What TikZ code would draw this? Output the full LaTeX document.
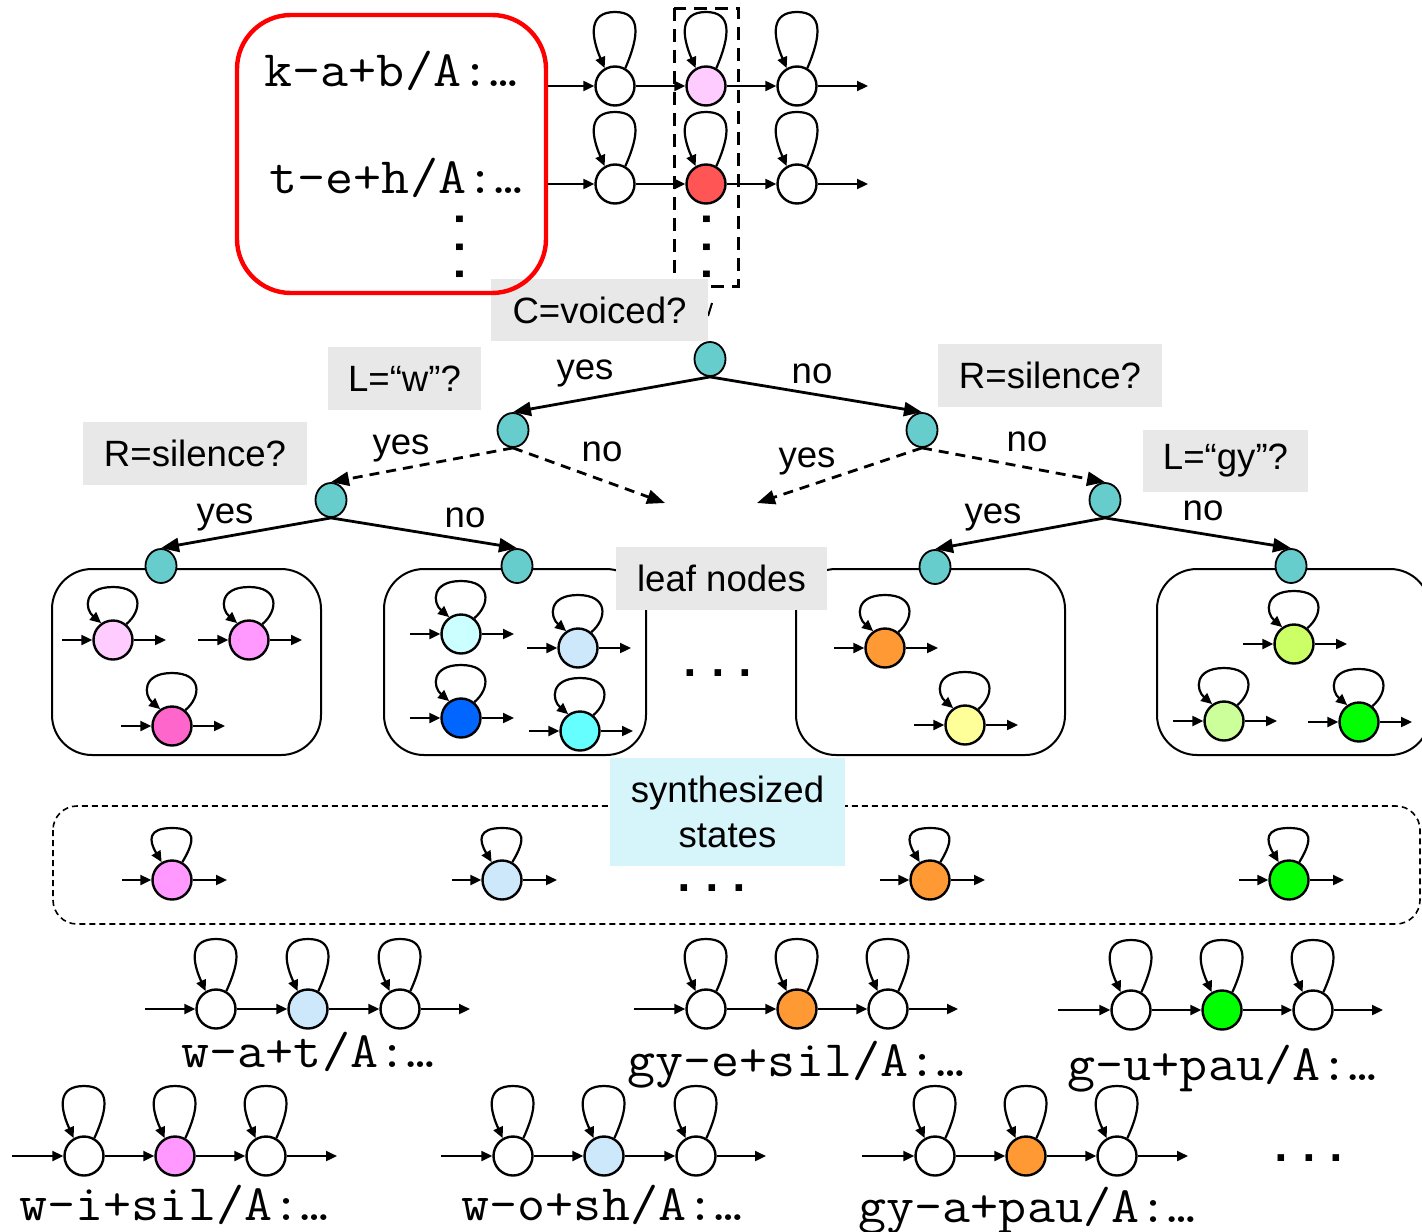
\documentclass[tikz,border=0pt]{standalone}
\usepackage{fontspec}
\setmainfont{Liberation Sans}
\newfontfamily\monof{Liberation Mono}
\usetikzlibrary{arrows.meta,calc,shapes.geometric}

\definecolor{qgray}{HTML}{E8E8E8}
\definecolor{synbg}{HTML}{D5F5FA}
\definecolor{tealc}{HTML}{66CCCC}
\definecolor{pinkL}{HTML}{FFCCFF}
\definecolor{redS}{HTML}{FF5555}
\definecolor{pinkM}{HTML}{FF99FF}
\definecolor{pinkH}{HTML}{FF66CC}
\definecolor{cyanL}{HTML}{CCFFFF}
\definecolor{blueL}{HTML}{CCE8FA}
\definecolor{blueD}{HTML}{0066FF}
\definecolor{cyanM}{HTML}{66FFFF}
\definecolor{orng}{HTML}{FF9933}
\definecolor{yelL}{HTML}{FFFF99}
\definecolor{limeM}{HTML}{CCFF66}
\definecolor{grnL}{HTML}{CCFF99}
\definecolor{grnM}{HTML}{00FF00}

\newcommand\lblfont{\fontsize{18.3pt}{22.5pt}\selectfont}
\newcommand\labmono{\ttfamily\fontsize{25.5pt}{30pt}\selectfont}
\newcommand\dotfont{\monof\bfseries\fontsize{23pt}{26pt}\selectfont}
% model names are set slightly widened
\newcommand\mname[1]{\scalebox{1.067}[1]{#1}}

% self transition drawn above a state: node, start angle, end angle, height, bulge, rise
\newcommand\selfloop[6]{\draw[arr] (#1.#2) .. controls +(0.55*#5,-#6) and +(#5,0) .. ($(#1.center)+(0,-#4)$) .. controls +(-#5,0) and +(-0.55*#5,-#6) .. (#1.#3);}

% three-state left-to-right HMM: prefix, y, x1, x2, x3, centre colour, entry x, exit x, loop height
\newcommand\hmmchain[9]{%
  \node[stt] (#1a) at (#3,#2) {};
  \node[stt,fill=#6] (#1b) at (#4,#2) {};
  \node[stt] (#1c) at (#5,#2) {};
  \coordinate (#1in) at (#7,#2);
  \coordinate (#1out) at (#8,#2);
  \draw[arr] (#1in) -- (#1a);
  \draw[arr] (#1a) -- (#1b);
  \draw[arr] (#1b) -- (#1c);
  \draw[arr] (#1c) -- (#1out);
  \selfloop{#1a}{60}{120}{#9}{26}{0.45*#9}
  \selfloop{#1b}{60}{120}{#9}{26}{0.45*#9}
  \selfloop{#1c}{60}{120}{#9}{26}{0.45*#9}}

% single state inside a leaf box
\newcommand\leafstate[4]{%
  \node[stt,fill=#4] (#1) at (#2,#3) {};
  \coordinate (#1i) at ($(#1)+(-51,0)$);
  \coordinate (#1o) at ($(#1)+(53,0)$);
  \draw[arr] (#1i) -- (#1);
  \draw[arr] (#1) -- (#1o);
  \selfloop{#1}{50}{125}{53}{30}{14}}

% single synthesized state
\newcommand\synstate[4]{%
  \node[stt,fill=#4] (#1) at (#2,#3) {};
  \coordinate (#1i) at ($(#1)+(-50,0)$);
  \coordinate (#1o) at ($(#1)+(55,0)$);
  \draw[arr] (#1i) -- (#1);
  \draw[arr] (#1) -- (#1o);
  \selfloop{#1}{60}{120}{52}{24}{22}}

\begin{document}
\begin{tikzpicture}[x=0.5pt,y=-0.5pt,
  stt/.style={circle,draw,line width=1.2pt,minimum size=19.5pt,inner sep=0pt,fill=white},
  tnode/.style={ellipse,draw,line width=0.9pt,minimum width=15.5pt,minimum height=17pt,inner sep=0pt,fill=tealc},
  arr/.style={-{Triangle[length=5.5pt,width=5pt]},line width=1.1pt},
  tarr/.style={-{Triangle[length=9pt,width=7pt]},line width=1.4pt},
  dsh/.style={dash pattern=on 5pt off 3.5pt},
  lbl/.style={font=\lblfont,inner sep=0pt},
  qbox/.style={fill=qgray,inner sep=0pt,font=\lblfont},
  mlab/.style={font=\labmono,inner sep=0pt,anchor=base},
  lbox/.style={draw,line width=1pt,rounded corners=20pt},
  dotsx/.style={font=\dotfont,inner sep=0pt,anchor=base},
]
\useasboundingbox (0,0) rectangle (1422,1231);
\clip (0,0) rectangle (1422,1231);

% ---------- context-dependent models at the top ----------
\hmmchain{ta}{86}{615}{706}{797}{pinkL}{548}{868}{74}
\hmmchain{tb}{184}{615}{706}{797}{redS}{548}{868}{72}
\draw[line width=1.5pt,dash pattern=on 6.5pt off 4pt] (674,8) rectangle (738,286);
\node[dotsx,rotate=-90] (vd2) at (703,247) {...};
\draw[line width=1pt] (712,303) -- (708,316);

\node[qbox,minimum width=108.5pt,minimum height=31pt] (qC) at (599.5,310) {C=voiced?};

\draw[red,line width=2.2pt,rounded corners=27pt] (237,15) rectangle (546,293);
\node[mlab] (lab1) at (391,86) {\mname{k-a+b/A:…}};
\node[mlab] (lab2) at (396,193) {\mname{t-e+h/A:…}};
\node[dotsx,rotate=-90] (vd1) at (456,247) {...};

% ---------- decision tree ----------
\node[qbox,minimum width=76.5pt,minimum height=31.5pt] (qL) at (404.5,378.5) {L=“w”?};
\node[qbox,minimum width=112pt,minimum height=31.5pt] (qR1) at (1050,375.5) {R=silence?};
\node[qbox,minimum width=112pt,minimum height=31.5pt] (qR2) at (195,453.5) {R=silence?};
\node[qbox,minimum width=82.5pt,minimum height=31pt] (qG) at (1225.5,461) {L=“gy”?};

\node[tnode] (r0) at (710,359) {};
\node[tnode] (n1) at (513,430) {};
\node[tnode] (n3) at (922,430) {};
\node[tnode] (n2) at (331,500) {};
\node[tnode] (n4) at (1105,500) {};
\coordinate (m1) at (665,503);
\coordinate (m2) at (757,503);

\draw[tarr] (r0.south) -- (n1.north);
\draw[tarr] (r0.south) -- (n3.north);
\draw[tarr,dsh] (n1.south) -- (n2.north);
\draw[tarr,dsh] (n1.south) -- (m1);
\draw[tarr,dsh] (n3.south) -- (m2);
\draw[tarr,dsh] (n3.south) -- (n4.north);

\node[lbl] (y1) at (585,373) {yes};
\node[lbl] (o1) at (812,374) {no};
\node[lbl] (y2) at (401,448) {yes};
\node[lbl] (o2) at (602,452) {no};
\node[lbl] (y3) at (807,461) {yes};
\node[lbl] (o3) at (1027,442) {no};
\node[lbl] (y4) at (225,517) {yes};
\node[lbl] (o4) at (465,518) {no};
\node[lbl] (y5) at (993,517) {yes};
\node[lbl] (o5) at (1203,511) {no};

% ---------- leaf nodes ----------
\draw[lbox] (52,569) rectangle (321,755);
\draw[lbox] (384,569) rectangle (646,755);
\draw[lbox] (796,569) rectangle (1065,755);
\draw[lbox] (1157,569) rectangle (1430,755);

\node[tnode] (lf1) at (161,566) {};
\node[tnode] (lf2) at (517,566) {};
\node[tnode] (lf3) at (935,567) {};
\node[tnode] (lf4) at (1291,566) {};

\draw[tarr] (n2.south) -- (lf1.north);
\draw[tarr] (n2.south) -- (lf2.north);
\draw[tarr] (n4.south) -- (lf3.north);
\draw[tarr] (n4.south) -- (lf4.north);

\node[qbox,minimum width=105.5pt,minimum height=31.5pt] (qLeaf) at (721.5,578.5) {leaf nodes};

\leafstate{p1}{113}{640}{pinkL}
\leafstate{p2}{249}{640}{pinkM}
\leafstate{p3}{172}{726}{pinkH}
\leafstate{b1}{461}{634}{cyanL}
\leafstate{b2}{578}{648}{blueL}
\leafstate{b3}{461}{718}{blueD}
\leafstate{b4}{580}{731}{cyanM}
\leafstate{o1s}{885}{648}{orng}
\leafstate{o2s}{965}{725}{yelL}
\leafstate{g1}{1294}{644}{limeM}
\leafstate{g2}{1224}{721}{grnL}
\leafstate{g3}{1359}{722}{grnM}

\node[dotsx] (el1) at (718,676) {...};

% ---------- synthesized states ----------
\draw[line width=0.8pt,dash pattern=on 3pt off 2pt,rounded corners=12pt] (53,806) rectangle (1420,924);
\node[fill=synbg,minimum width=117.5pt,minimum height=54pt,inner sep=0pt,align=center,font=\lblfont] (syn) at (727.5,812) {synthesized\\states};

\synstate{s1}{172}{880}{pinkM}
\synstate{s2}{502}{880}{blueL}
\synstate{s3}{930}{880}{orng}
\synstate{s4}{1289}{880}{grnM}
\node[dotsx] (el2) at (712,891) {...};

% ---------- models built from the synthesized states ----------
\hmmchain{ca}{1009}{216}{308}{400}{blueL}{145}{470}{70}
\hmmchain{cb}{1009}{706}{797}{888}{orng}{634}{958}{70}
\hmmchain{cc}{1010}{1131}{1222}{1313}{grnM}{1058}{1383}{70}
\hmmchain{cd}{1156}{84}{175}{266}{pinkM}{12}{337}{70}
\hmmchain{ce}{1156}{513}{604}{696}{blueL}{441}{766}{70}
\hmmchain{cf}{1156}{935}{1026}{1117}{orng}{862}{1188}{70}

\node[mlab] (la) at (308,1067) {\mname{w-a+t/A:…}};
\node[mlab] (lb) at (796,1076) {\mname{gy-e+sil/A:…}};
\node[mlab] (lc) at (1222,1080) {\mname{g-u+pau/A:…}};
\node[mlab] (ld) at (174,1220) {\mname{w-i+sil/A:…}};
\node[mlab] (le) at (602,1220) {\mname{w-o+sh/A:…}};
\node[mlab] (lf) at (1027,1222) {\mname{gy-a+pau/A:…}};
\node[dotsx] (el3) at (1309,1161) {...};
\end{tikzpicture}
\end{document}
